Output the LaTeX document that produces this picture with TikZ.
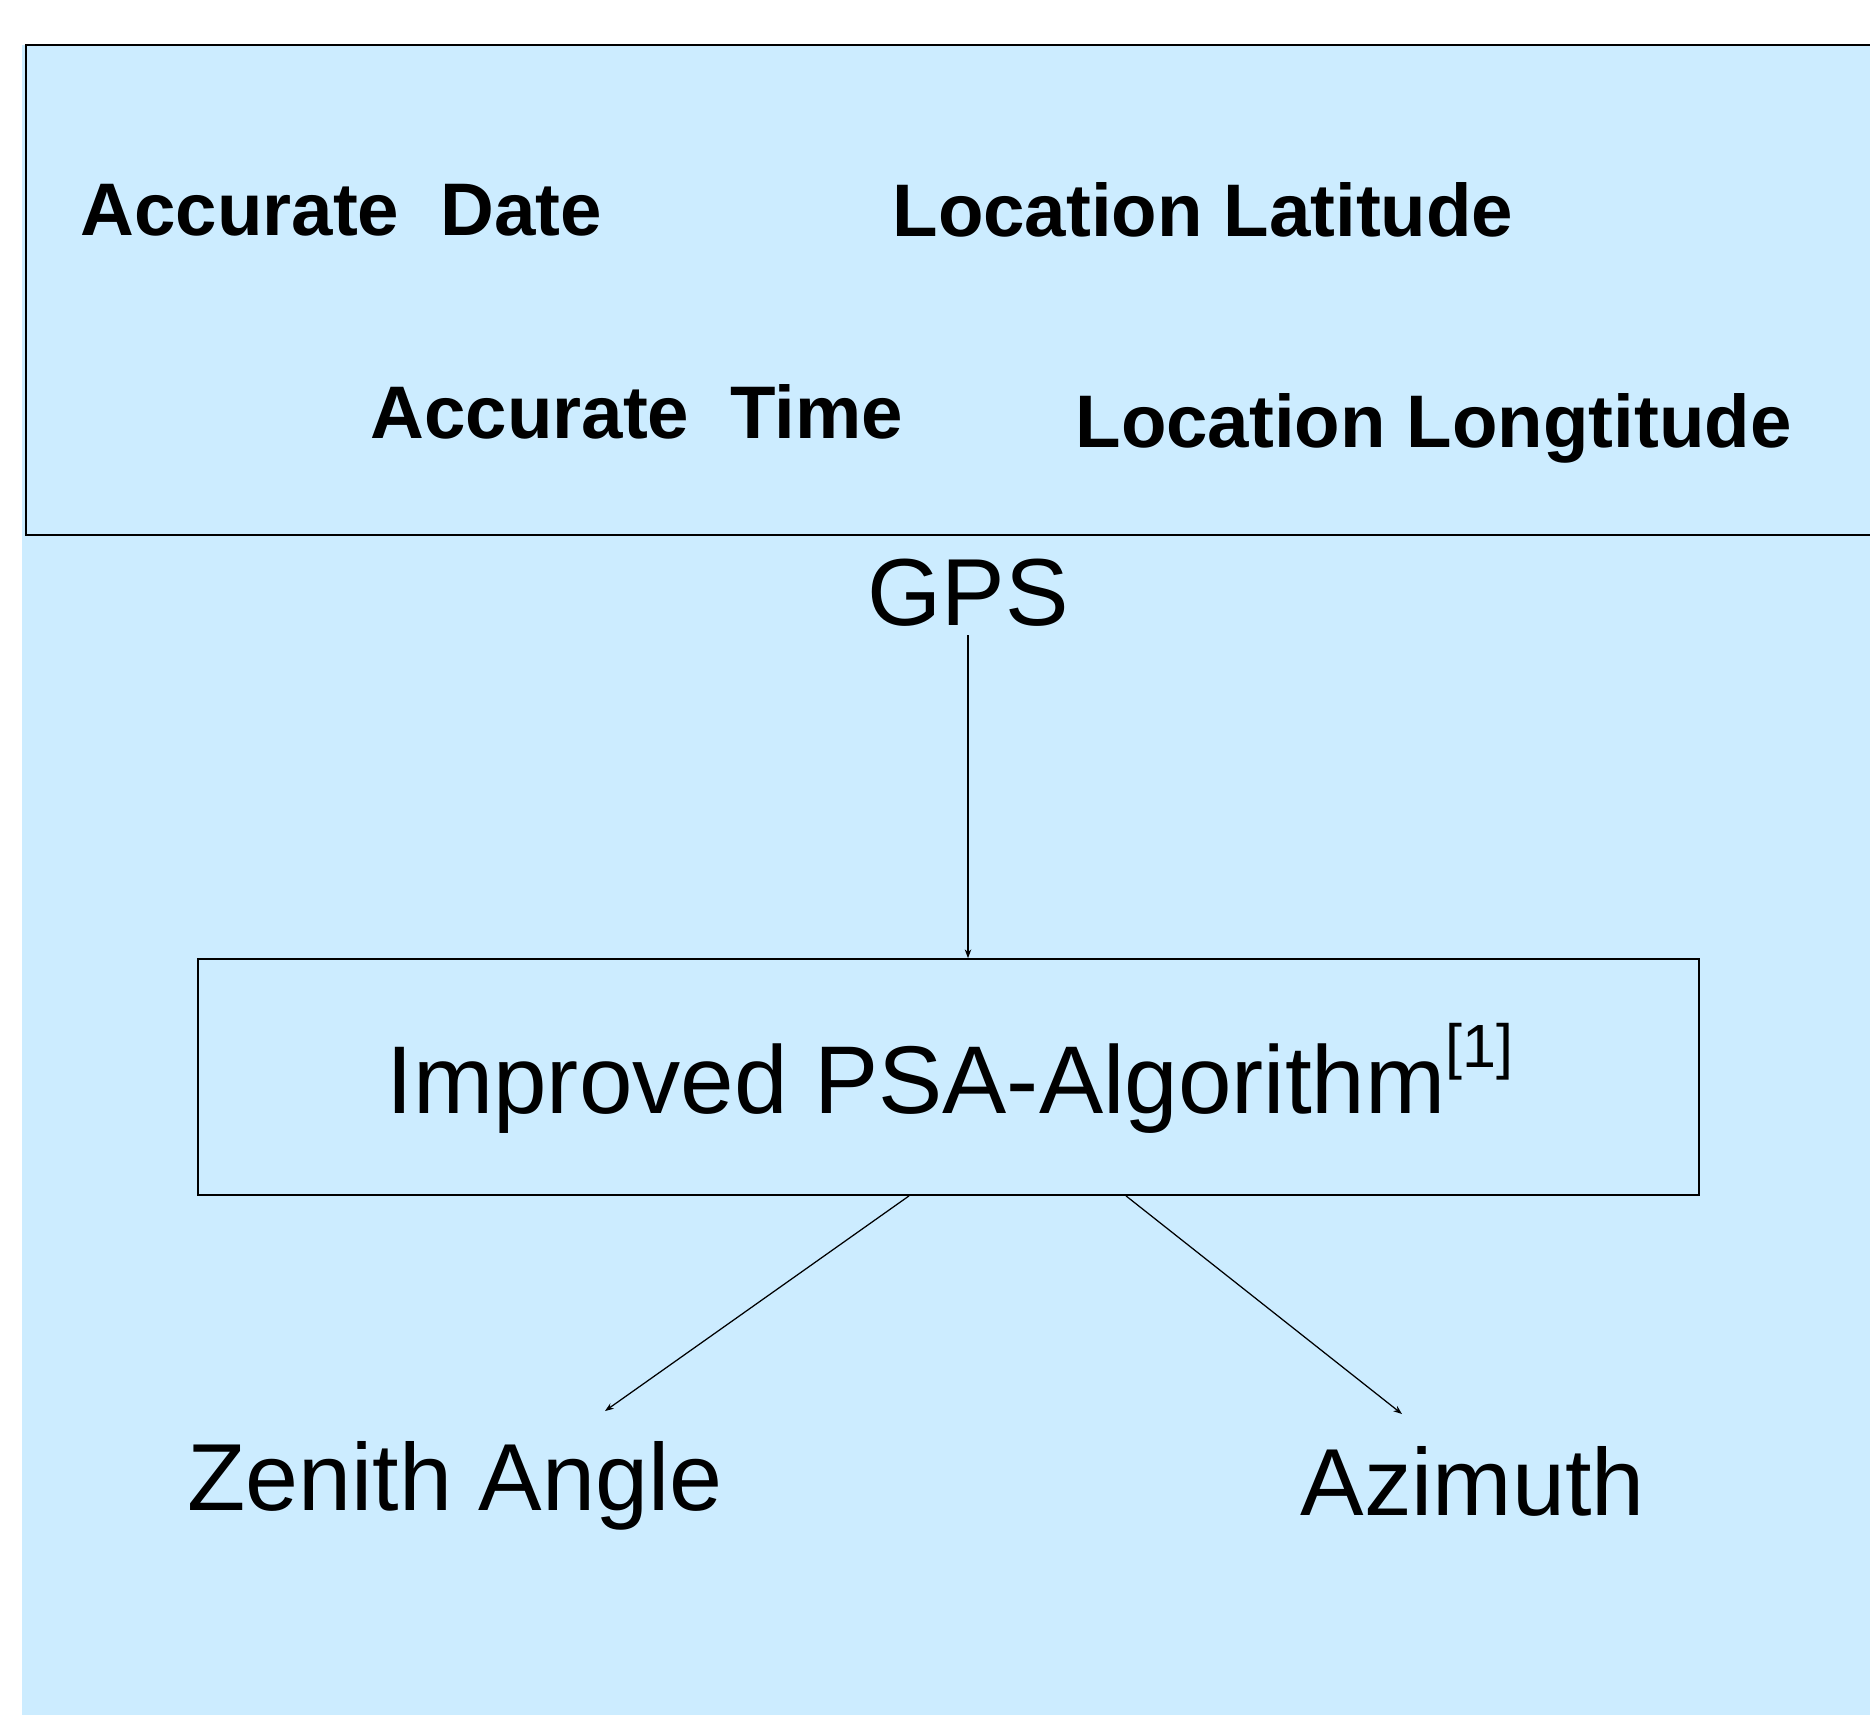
\documentclass[tikz,border=0pt]{standalone}
\usepackage{fontspec}
\setmainfont{Liberation Sans}
\usetikzlibrary{arrows.meta}
\definecolor{bgblue}{RGB}{204,236,255}
\newcommand{\supref}[1]{\raisebox{18.4pt}{\fontsize{24.4pt}{28pt}\selectfont #1}}
\begin{document}
\begin{tikzpicture}[x=0.4pt,y=-0.4pt,
  lbl/.style={inner sep=0pt,anchor=base west},
  boldlbl/.style={lbl,font=\fontsize{29.8pt}{35pt}\selectfont\bfseries},
  biglbl/.style={lbl,font=\fontsize{38.1pt}{44pt}\selectfont},
  arr/.style={draw=black,line width=0.5pt,-{Stealth[length=3.5pt,width=2.6pt]}},
  frame/.style={draw=black,line width=0.7pt}]
\useasboundingbox (0,0) rectangle (1870,1715);
\fill[bgblue] (22,45) rectangle (1870,1715);
% top container
\draw[frame] (1870,45) -- (26,45) -- (26,535) -- (1870,535);
\node[boldlbl] (date) at (80,235) {Accurate\ \ Date};
\node[boldlbl] (lat) at (892,236) {Location Latitude};
\node[boldlbl] (time) at (370,438) {Accurate\ \ Time};
\node[boldlbl] (lon) at (1075,447) {Location Longtitude};
% GPS
\node[inner sep=0pt,anchor=base,font=\fontsize{38.1pt}{44pt}\selectfont] (gps) at (968,625) {GPS};
% algorithm box
\node[frame,inner sep=0pt,minimum width=600.4pt,minimum height=94.4pt] (algo) at (948.5,1077) {};
\node[inner sep=0pt,anchor=base,font=\fontsize{38.5pt}{46pt}\selectfont] (algotext) at (950,1113)
      {Improved PSA-Algorithm\supref{[1]}};
% outputs
\node[biglbl] (zen) at (187,1510) {Zenith Angle};
\node[biglbl] (azi) at (1300,1515) {Azimuth};
\coordinate (zenend) at (605,1411);
\coordinate (aziend) at (1402,1414);
% connectors
\draw[arr] ([yshift=-4pt]gps.base) -- (algo.north -| gps.base);
\draw[arr] (algo.south -| 909,0) -- (zenend);
\draw[arr] (algo.south -| 1126,0) -- (aziend);
\end{tikzpicture}
\end{document}
